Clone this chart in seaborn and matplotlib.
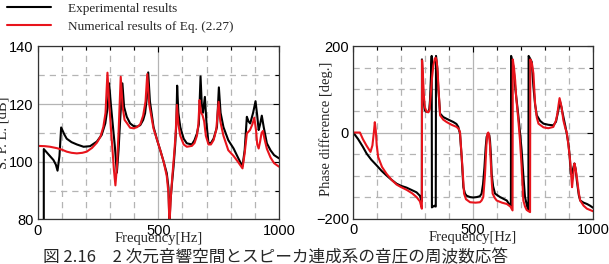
import numpy as np
import pandas as pd
import matplotlib
matplotlib.use("Agg")
import matplotlib.pyplot as plt
from matplotlib.ticker import MultipleLocator
import seaborn as sns

# ---- data ----
spl_exp_f = [25, 25, 45, 65, 75, 82, 90, 97, 110, 120, 140, 162, 190, 217, 245, 265, 280, 290,
             296, 303, 312, 320, 328, 335, 342, 351, 358, 369, 383, 397, 412, 425, 437, 445,
             452, 458, 465, 480, 495, 508, 522, 535, 542, 546, 550, 556, 563, 570, 575, 578,
             583, 591, 605, 618, 639, 650, 660, 668, 675, 680, 685, 693, 700, 708, 718, 729,
             743, 751, 758, 770, 790, 812, 830, 846, 849, 858, 867, 874, 881, 893, 903, 910,
             916, 922, 929, 937, 950, 965, 980, 1000]
spl_exp_v = [70, 104.4, 102.5, 100.6, 99, 96.9, 102, 111.9, 109.5, 108, 106.8, 106, 105.2, 105.4,
             107, 109.3, 113.3, 119, 127.2, 120, 112, 105, 96.2, 104, 115, 127.2, 119, 115.6,
             113.3, 112.4, 112.2, 112.7, 114.5, 116.8, 122, 131, 121, 112.1, 107.5, 104, 100,
             96, 91, 78, 86, 92, 98.3, 106, 114, 126.4, 117, 112, 108, 106.4, 106, 107.5, 109.8,
             113, 129.6, 120, 117, 122.5, 113, 106.4, 106.5, 108, 112, 125.8, 117, 112, 107.5,
             104.6, 101.5, 98.8, 98.5, 104, 115.6, 114, 113.3, 117, 121, 116, 111, 113, 116,
             112, 106.4, 104, 102.3, 101.2]

spl_num_f = [0, 30, 51, 80, 100, 120, 140, 162, 185, 203, 225, 245, 260, 272, 281, 289, 295, 303,
             310, 316, 322, 328, 335, 344, 352, 360, 369, 383, 397, 412, 425, 437, 447, 454,
             462, 480, 495, 508, 522, 535, 542, 546, 552, 558, 565, 572, 577, 583, 591, 605,
             618, 639, 650, 660, 666, 671, 677, 683, 690, 697, 708, 718, 729, 740, 750, 757,
             770, 790, 812, 830, 849, 858, 867, 880, 890, 898, 905, 910, 916, 922, 928, 934,
             940, 950, 965, 980, 1000]
spl_num_v = [105.5, 105.4, 105.2, 104.7, 104.2, 103.5, 103.1, 102.9, 103.1, 103.5, 104.8, 106.6,
             108.7, 112.1, 117, 130.9, 122, 112, 104, 97, 91.8, 98, 110, 129.5, 119, 114.5,
             113.5, 111.8, 111.6, 112, 113, 116, 121, 130.4, 120, 111.5, 107.5, 104, 100, 95,
             89, 78, 88, 95, 102, 110, 119.7, 113, 109, 106, 105.2, 105.5, 106.5, 109, 113,
             121.4, 117, 116.2, 114, 109, 106, 106, 107.5, 111, 120.8, 114, 109, 104, 102, 100,
             97.7, 103, 109.8, 111, 113, 115.3, 111, 106, 104.6, 107, 110, 110.7, 108, 104.5,
             101.5, 99.5, 98.3]

ph_exp_f = [0, 20, 40, 56, 75, 97, 118, 139, 160, 181, 200, 222, 245, 264, 278, 284, 286, 286.5,
            289, 293, 298, 305, 313, 317, 320, 324, 327, 328, 330, 335, 340, 343, 344, 345, 350,
            355, 362, 375, 389, 400, 417, 430, 438, 445, 452, 459, 466, 473, 487, 500, 515,
            528, 535, 541, 547, 552, 556, 563, 567, 570, 574, 577, 583, 591, 612, 640, 654,
            657, 658, 662, 668, 676, 688, 695, 702, 709, 716, 725, 730, 731, 737, 744, 751,
            758, 765, 779, 793, 813, 834, 845, 855, 862, 868, 876, 884, 890, 897, 902, 907,
            912, 918, 922, 927, 932, 940, 946, 960, 974, 987, 1000]
ph_exp_v = [0, -15, -33, -49, -63, -76, -89, -100, -110, -119, -124, -128, -134, -139, -147, -158,
            -160, 170, 120, 75, 52, 48, 48, 55, 75, 130, 178, -174, -170, -172, -170, -172, -172,
            178, 152, 100, 44, 36, 32, 29, 24.5, 20, 13, -3, -57, -127, -142, -147, -150, -151,
            -150, -148, -142, -120, -80, -35, -10, -3, -6, -18, -55, -96, -125, -142, -150,
            -158, -170, -172, 178, 168, 152, 100, 40, 0, -42, -100, -150, -172, -181, 178, 172,
            164, 106, 65, 40, 27, 20.6, 18, 16.7, 25, 52, 72, 58, 36, 15, -3, -26, -55, -96,
            -95, -80, -72, -85, -112, -145, -158, -163, -166, -170, -175]

ph_num_f = [0, 15, 28, 40, 55, 72, 80, 86, 90, 94, 98, 104, 120, 139, 160, 181, 200, 222, 245,
            264, 278, 286, 287, 290, 294, 298, 306, 313, 318, 322, 328, 334, 340, 344, 348,
            352, 355, 362, 375, 389, 410, 431, 440, 445, 450, 455, 462, 470, 487, 510, 528,
            535, 542, 549, 555, 559, 563, 566, 570, 573, 578, 581, 590, 598, 620, 640, 655,
            664, 665, 670, 675, 679, 688, 695, 702, 709, 716, 723, 737, 738, 745, 751, 758,
            765, 772, 793, 813, 834, 845, 851, 856, 860, 868, 876, 884, 890, 897, 904, 912,
            917, 922, 927, 932, 940, 946, 960, 974, 987, 1000]
ph_num_v = [0, 0, 0, -15, -30, -45, -30, 0, 24, 5, -30, -57, -80, -96, -110, -121, -127, -133,
            -141, -150, -160, -177, 168, 140, 90, 60, 48, 47, 52, 80, 125, 156, 172, 174, 165,
            140, 106, 40, 30, 24.5, 18, 13, 8, 1, -40, -80, -142, -155, -162, -163, -162, -158,
            -150, -100, -30, -3, 0, -5, -30, -65, -120, -142, -152, -158, -163, -166, -172,
            -181, 170, 150, 121, 83, 30, -18, -80, -158, -172, -180, -185, 170, 160, 137, 67,
            35, 20.6, 12, 10, 13, 28, 44, 65, 80, 60, 28, 10, 0, -30, -65, -127, -100, -72,
            -85, -104, -140, -158, -170, -177, -180, -183]

legend_labels = ["Experimental results", "Numerical results of Eq. (2.27)"]
caption = "図 2.16\u30002 次元音響空間とスピーカ連成系の音圧の周波数応答"

sns.set_style("white")
plt.rcParams["font.family"] = ["Liberation Sans", "DejaVu Sans"]
serif = ["Liberation Serif", "DejaVu Serif"]

fig = plt.figure(figsize=(6.09, 2.64), dpi=100)
ax1 = fig.add_axes([0.062, 0.169, 0.396, 0.655])
ax2 = fig.add_axes([0.580, 0.172, 0.394, 0.652])


def draw(ax, fe, ve, fn, vn):
    sns.lineplot(x=fe, y=ve, ax=ax, color="black", lw=1.5, estimator=None, sort=False,
                 label=legend_labels[0], legend=False)
    sns.lineplot(x=fn, y=vn, ax=ax, color="#e8141c", lw=1.5, estimator=None, sort=False,
                 label=legend_labels[1], legend=False)


draw(ax1, spl_exp_f, spl_exp_v, spl_num_f, spl_num_v)
draw(ax2, ph_exp_f, ph_exp_v, ph_num_f, ph_num_v)

ax1.set_ylim(80, 140)
ax1.yaxis.set_major_locator(MultipleLocator(20))
ax1.yaxis.set_minor_locator(MultipleLocator(10))
ax2.set_ylim(-200, 200)
ax2.yaxis.set_major_locator(MultipleLocator(200))
ax2.yaxis.set_minor_locator(MultipleLocator(50))

for ax in (ax1, ax2):
    ax.set_xlim(0, 1000)
    ax.xaxis.set_major_locator(MultipleLocator(500))
    ax.xaxis.set_minor_locator(MultipleLocator(100))
    ax.grid(which="major", color="#b4b4b4", lw=0.9, ls="-")
    ax.grid(which="minor", color="#b4b4b4", lw=0.9, ls=(0, (5, 4)))
    ax.set_axisbelow(True)
    ax.tick_params(which="both", direction="in", top=True, right=True, labelsize=10.5,
                   pad=3, colors="black")
    ax.tick_params(which="major", length=4, width=0.8)
    ax.tick_params(which="minor", length=3, width=0.8)
    for s in ax.spines.values():
        s.set_color("#333333")
        s.set_linewidth(0.9)
    ax.set_xlabel("Frequency[Hz]", fontfamily=serif, fontsize=10.5)
    ax.xaxis.set_label_coords(0.5, -0.072)

ax1.set_ylabel("S. P. L. [dB]", fontfamily=serif, fontsize=10.5)
ax1.yaxis.set_label_coords(-0.119, 0.5)
ax2.set_ylabel("Phase difference [deg.]", fontfamily=serif, fontsize=10.5)
ax2.yaxis.set_label_coords(-0.085, 0.52)

handles = ax1.get_lines()[:2]
fig.legend(handles, legend_labels, loc="upper left", bbox_to_anchor=(0.012, 0.99),
           frameon=False, prop={"family": serif, "size": 9.5}, handlelength=3.3,
           handletextpad=1.3, labelspacing=0.45, borderpad=0, borderaxespad=0)

fig.text(0.452, 0.025, caption, ha="center", va="center", fontsize=12,
         family=["Noto Sans CJK JP", "DejaVu Sans"])

fig.savefig("out.png", dpi=100)
